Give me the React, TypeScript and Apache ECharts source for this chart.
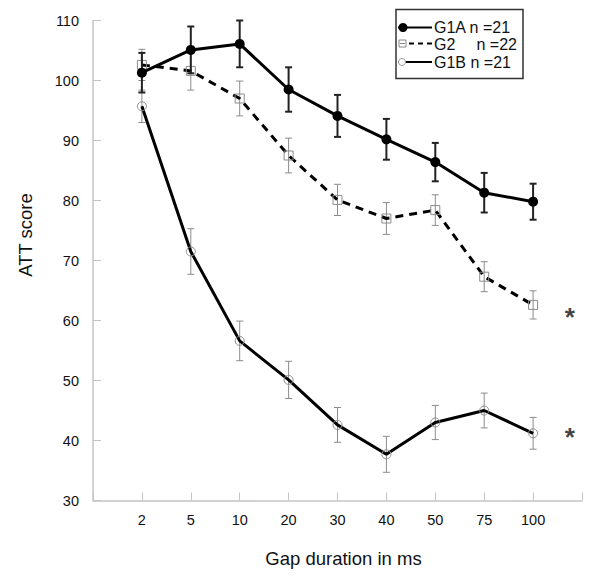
import React, { useEffect, useRef } from "react";
import * as echarts from "echarts";

const categories = ["2", "5", "10", "20", "30", "40", "50", "75", "100"];
const g1aValues = [101.3, 105.1, 106.1, 98.5, 94.1, 90.2, 86.4, 81.3, 79.8];
const g1aErrors = [3.3, 3.9, 3.9, 3.7, 3.5, 3.4, 3.2, 3.3, 3.0];
const g2Values = [102.6, 101.6, 97.0, 87.5, 80.1, 77.0, 78.4, 67.3, 62.6];
const g2Errors = [2.6, 3.2, 2.9, 2.9, 2.6, 2.65, 2.55, 2.5, 2.35];
const g1bValues = [95.7, 71.5, 56.6, 50.1, 42.6, 37.7, 43.0, 45.0, 41.2];
const g1bErrors = [2.7, 3.8, 3.3, 3.1, 2.9, 3.0, 2.85, 2.9, 2.65];
const sigPositions = [9.75, 9.75];
const sigValues = [61.5, 41.5];
const legendLabels = ["G1A n =21", "G2", "n =22", "G1B n =21"];
const yTicks = { min: 30, max: 110, interval: 10 };

const FONT = "'Liberation Sans', Arial, sans-serif";

function toPoints(vals: number[]) {
  return vals.map((v, i) => [i + 1, v]);
}
function toErr(vals: number[], errs: number[]) {
  return vals.map((v, i) => [i + 1, v, errs[i]]);
}

function errorSeries(name: string, vals: number[], errs: number[], color: string, width: number, z: number) {
  return {
    type: "custom",
    name,
    z,
    data: toErr(vals, errs),
    renderItem: (_p: any, api: any) => {
      const x = api.value(0);
      const y = api.value(1);
      const e = api.value(2);
      const top = api.coord([x, y + e]);
      const bot = api.coord([x, y - e]);
      const h = 3.5;
      const style = { stroke: color, lineWidth: width, fill: "none" };
      return {
        type: "group",
        children: [
          { type: "line", shape: { x1: top[0], y1: top[1], x2: bot[0], y2: bot[1] }, style },
          { type: "line", shape: { x1: top[0] - h, y1: top[1], x2: top[0] + h, y2: top[1] }, style },
          { type: "line", shape: { x1: bot[0] - h, y1: bot[1], x2: bot[0] + h, y2: bot[1] }, style },
        ],
      };
    },
  };
}

export default function App() {
  const ref = useRef<HTMLDivElement>(null);
  useEffect(() => {
    document.body.style.margin = "0";
    if (!ref.current) return;
    const chart = echarts.init(ref.current, null, { renderer: "svg" });
    const axisGray = "#c4c4c4";
    const option: any = {
      animation: false,
      backgroundColor: "#fff",
      grid: { left: 93, right: 18, top: 20.5, bottom: 83.5, containLabel: false, outerBoundsMode: "none" },
      xAxis: {
        type: "value",
        min: 0,
        max: 10,
        interval: 1,
        axisLine: { show: true, lineStyle: { color: axisGray, width: 1.5 } },
        axisTick: { show: true, inside: true, length: 8, lineStyle: { color: axisGray, width: 1 } },
        splitLine: { show: false },
        axisLabel: {
          color: "#111",
          fontSize: 14.5,
          fontFamily: FONT,
          margin: 12,
          formatter: (v: number) => categories[v - 1] ?? "",
        },
      },
      yAxis: {
        type: "value",
        min: yTicks.min,
        max: yTicks.max,
        interval: yTicks.interval,
        axisLine: { show: true, lineStyle: { color: axisGray, width: 1.5 } },
        axisTick: { show: true, inside: true, length: 8, lineStyle: { color: axisGray, width: 1 } },
        splitLine: { show: false },
        axisLabel: { color: "#111", fontSize: 14.5, fontFamily: FONT, margin: 14 },
      },
      series: [
        errorSeries("G2 err", g2Values, g2Errors, "#8c8c8c", 1, 2),
        errorSeries("G1B err", g1bValues, g1bErrors, "#8c8c8c", 1, 2),
        {
          type: "line",
          name: "G1B",
          z: 3,
          data: toPoints(g1bValues),
          symbol: "circle",
          symbolSize: 9,
          itemStyle: { color: "rgba(255,255,255,0)", borderColor: "#8c8c8c", borderWidth: 1 },
          lineStyle: { color: "#000", width: 3 },
        },
        {
          type: "line",
          name: "G2",
          z: 3,
          data: toPoints(g2Values),
          symbol: "rect",
          symbolSize: 9,
          itemStyle: { color: "rgba(255,255,255,0)", borderColor: "#8c8c8c", borderWidth: 1 },
          lineStyle: { color: "#000", width: 3, type: [8, 6] },
        },
        errorSeries("G1A err", g1aValues, g1aErrors, "#222", 2, 4),
        {
          type: "line",
          name: "G1A",
          z: 5,
          data: toPoints(g1aValues),
          symbol: "circle",
          symbolSize: 10,
          itemStyle: { color: "#000" },
          lineStyle: { color: "#000", width: 3 },
        },
        {
          type: "scatter",
          name: "sig",
          z: 5,
          data: sigPositions.map((x, i) => [x, sigValues[i]]),
          symbolSize: 0,
          label: {
            show: true,
            position: "inside",
            formatter: "*",
            fontSize: 26,
            fontWeight: "bold",
            fontFamily: FONT,
            color: "#111",
            offset: [0, 5],
          },
        },
      ],
      graphic: [
        {
          type: "text",
          x: 25,
          y: 235,
          rotation: Math.PI / 2,
          style: { text: "ATT score", font: `18.5px ${FONT}`, fill: "#111", align: "center", verticalAlign: "middle" },
        },
        {
          type: "text",
          x: 343.5,
          y: 558,
          style: { text: "Gap duration in ms", font: `18.5px ${FONT}`, fill: "#111", align: "center", verticalAlign: "middle" },
        },
        {
          type: "rect",
          shape: { x: 396, y: 9.5, width: 127, height: 69 },
          style: { fill: "#fff", stroke: "#333", lineWidth: 1.5 },
          z: 10,
        },
        { type: "line", shape: { x1: 398, y1: 27.5, x2: 432, y2: 27.5 }, style: { stroke: "#000", lineWidth: 2 }, z: 11 },
        { type: "circle", shape: { cx: 403, cy: 27.5, r: 4.5 }, style: { fill: "#000" }, z: 11 },
        { type: "rect", shape: { x: 399, y: 40, width: 7, height: 7 }, style: { fill: "none", stroke: "#888", lineWidth: 1 }, z: 11 },
        { type: "line", shape: { x1: 400, y1: 43.5, x2: 405, y2: 43.5 }, style: { stroke: "#888", lineWidth: 1 }, z: 11 },
        { type: "line", shape: { x1: 409, y1: 43.5, x2: 432, y2: 43.5 }, style: { stroke: "#000", lineWidth: 2, lineDash: [5, 4] }, z: 11 },
        { type: "line", shape: { x1: 398, y1: 62, x2: 432, y2: 62 }, style: { stroke: "#000", lineWidth: 2 }, z: 11 },
        { type: "circle", shape: { cx: 402, cy: 62, r: 3.5 }, style: { fill: "#fff", stroke: "#999", lineWidth: 1 }, z: 12 },
        {
          type: "text",
          x: 434,
          y: 27.5,
          z: 11,
          style: { text: legendLabels[0], font: `16px ${FONT}`, fill: "#111", verticalAlign: "middle" },
        },
        {
          type: "text",
          x: 434,
          y: 44,
          z: 11,
          style: { text: legendLabels[1], font: `16px ${FONT}`, fill: "#111", verticalAlign: "middle" },
        },
        {
          type: "text",
          x: 476.5,
          y: 44,
          z: 11,
          style: { text: legendLabels[2], font: `16px ${FONT}`, fill: "#111", verticalAlign: "middle" },
        },
        {
          type: "text",
          x: 434,
          y: 62,
          z: 11,
          style: { text: legendLabels[3], font: `16px ${FONT}`, fill: "#111", verticalAlign: "middle" },
        },
      ],
    };
    chart.setOption(option);
    return () => chart.dispose();
  }, []);
  return <div ref={ref} style={{ width: 600, height: 584 }} />;
}
